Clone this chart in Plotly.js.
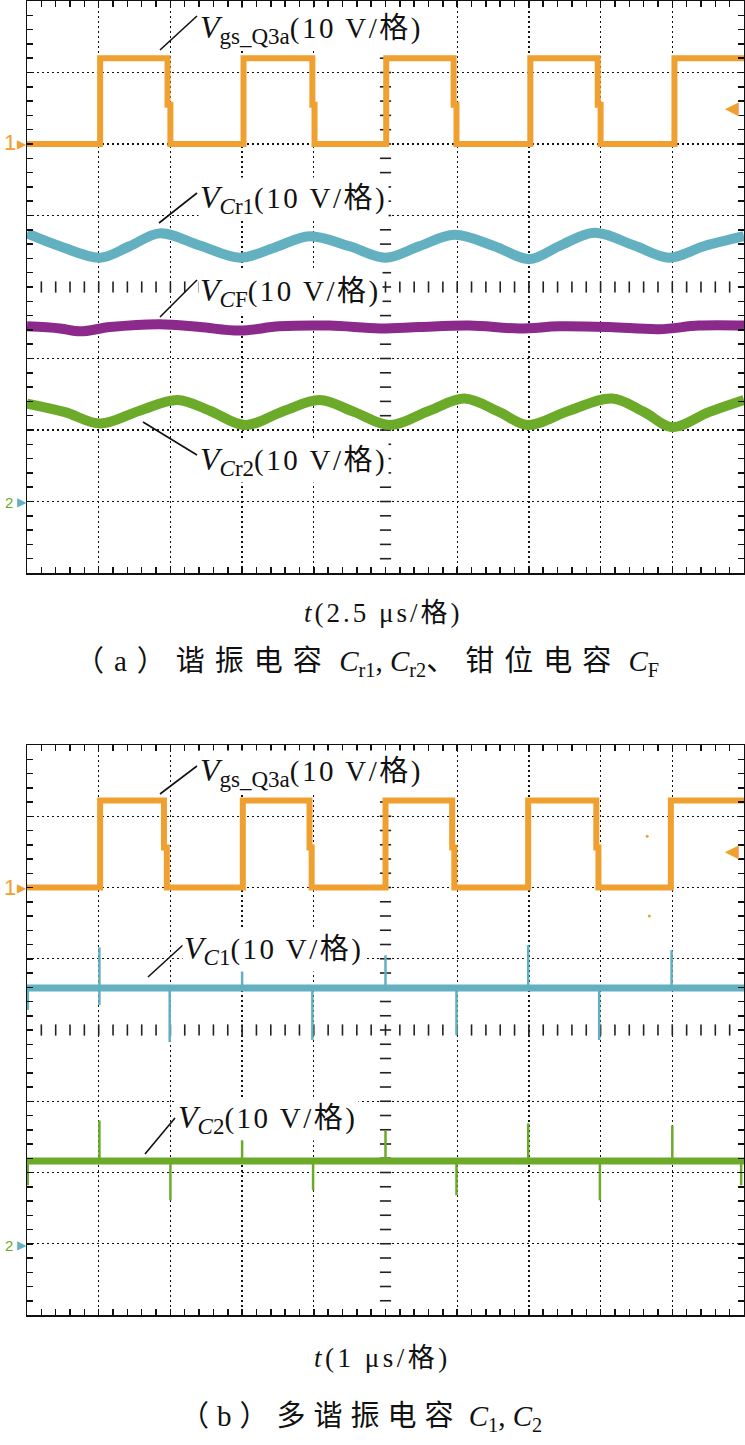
<!DOCTYPE html>
<html><head><meta charset="utf-8">
<script src="https://cdn.plot.ly/plotly-3.0.1.min.js"></script>
<style>body{margin:0;padding:0;background:#fff}</style>
</head><body><div id="chart" style="width:745px;height:1445px"></div>
<script>
// ---------- data (x in divisions 0..10, y in divisions 0..8) ----------
// Panel (a)
const gateA_x = [0, 1.02, 1.02, 1.96, 1.96, 2.00, 2.00, 3.02, 3.02, 3.98, 3.98, 4.01, 4.01, 5.01, 5.01, 5.95, 5.95, 5.99, 5.99, 7.02, 7.02, 7.96, 7.96, 8.00, 8.00, 9.03, 9.03, 10];
const gateA_y = [6.0, 6.0, 7.2, 7.2, 6.55, 6.55, 6.0, 6.0, 7.2, 7.2, 6.55, 6.55, 6.0, 6.0, 7.2, 7.2, 6.55, 6.55, 6.0, 6.0, 7.2, 7.2, 6.55, 6.55, 6.0, 6.0, 7.2, 7.2];
const vcr1_x = [0, 0.46, 1.02, 1.43, 1.85, 2.41, 2.97, 3.45, 3.94, 4.50, 5.00, 5.47, 5.96, 6.52, 7.01, 7.42, 7.91, 8.47, 8.96, 9.44, 10];
const vcr1_y = [4.75, 4.57, 4.41, 4.57, 4.75, 4.58, 4.41, 4.55, 4.71, 4.57, 4.41, 4.57, 4.73, 4.57, 4.39, 4.57, 4.76, 4.58, 4.41, 4.57, 4.71];
const vcf_x = [0, 0.46, 0.74, 1.16, 1.85, 2.41, 2.97, 3.52, 4.22, 4.92, 5.47, 6.17, 6.87, 7.42, 8.12, 8.82, 9.37, 10];
const vcf_y = [3.45, 3.42, 3.38, 3.44, 3.48, 3.44, 3.39, 3.45, 3.46, 3.42, 3.44, 3.46, 3.42, 3.45, 3.44, 3.41, 3.46, 3.46];
const vcr2_x = [0, 0.53, 1.02, 1.57, 2.10, 2.55, 3.04, 3.59, 4.08, 4.57, 5.06, 5.61, 6.10, 6.59, 6.98, 7.56, 8.16, 8.61, 9.00, 9.51, 10];
const vcr2_y = [2.37, 2.25, 2.09, 2.27, 2.42, 2.27, 2.07, 2.27, 2.42, 2.25, 2.07, 2.27, 2.44, 2.25, 2.07, 2.27, 2.44, 2.25, 2.04, 2.25, 2.42];
// Panel (b)
const gateB_x = [0, 1.02, 1.02, 1.91, 1.91, 1.95, 1.95, 3.01, 3.01, 3.94, 3.94, 3.97, 3.97, 5.00, 5.00, 5.93, 5.93, 5.96, 5.96, 6.99, 6.99, 7.94, 7.94, 7.97, 7.97, 8.98, 8.98, 10];
const gateB_y = [6.0, 6.0, 7.22, 7.22, 6.56, 6.56, 6.0, 6.0, 7.22, 7.22, 6.56, 6.56, 6.0, 6.0, 7.22, 7.22, 6.56, 6.56, 6.0, 6.0, 7.22, 7.22, 6.56, 6.56, 6.0, 6.0, 7.22, 7.22];
const gateB_dots_x = [8.65, 8.68];
const gateB_dots_y = [6.72, 5.60];
const vc1_base_x = [0, 10];
const vc1_base_y = [4.59, 4.59];
const vc1_spk_x = [0.01, 0.01, null, 1.01, 1.01, null, 1.99, 1.99, null, 3.00, 3.00, null, 3.98, 3.98, null, 5.00, 5.00, null, 5.99, 5.99, null, 6.99, 6.99, null, 7.98, 7.98, null, 8.99, 8.99];
const vc1_spk_y = [4.59, 4.28, null, 4.35, 5.16, null, 4.59, 3.83, null, 4.59, 4.91, null, 4.59, 3.86, null, 4.59, 5.05, null, 4.59, 3.93, null, 4.59, 5.19, null, 4.59, 3.86, null, 4.59, 5.12];
const vc2_base_x = [0, 10];
const vc2_base_y = [2.16, 2.16];
const vc2_spk_x = [0.01, 0.01, null, 1.01, 1.01, null, 2.00, 2.00, null, 3.00, 3.00, null, 3.99, 3.99, null, 5.00, 5.00, null, 5.99, 5.99, null, 6.99, 6.99, null, 7.99, 7.99, null, 9.00, 9.00, null, 9.96, 9.96];
const vc2_spk_y = [2.16, 1.82, null, 2.16, 2.73, null, 2.16, 1.61, null, 2.16, 2.45, null, 2.16, 1.75, null, 2.16, 2.59, null, 2.16, 1.68, null, 2.16, 2.69, null, 2.16, 1.61, null, 2.16, 2.66, null, 2.16, 1.82];

// text
const V = '<span style="font-size:32px"><i>V</i></span>';
const UNIT = '<span style="letter-spacing:2.5px">(10 V/格)</span>';
const sub = s => '<sub><span style="font-size:23px">' + s + '</span></sub>';
const labelGs = V + sub('gs_Q3a') + UNIT;
const labelCr1 = V + sub('<i>C</i>r1') + UNIT;
const labelCF = V + sub('<i>C</i>F') + UNIT;
const labelCr2 = V + sub('<i>C</i>r2') + UNIT;
const labelC1 = V + sub('<i>C</i>1') + UNIT;
const labelC2 = V + sub('<i>C</i>2') + UNIT;
const xTitleA = '<span style="letter-spacing:3px"><i>t</i>(2.5 μs/格)</span>';
const xTitleB = '<span style="letter-spacing:3.5px"><i>t</i>(1 μs/格)</span>';
const captionA = '<span style="letter-spacing:10px">（a）谐振电容</span> <i>C</i><sub>r1</sub>, <i>C</i><sub>r2</sub><span style="letter-spacing:10px">、钳位电容</span> <i>C</i><sub>F</sub>';
const captionB = '<span style="letter-spacing:8px">（b）多谐振电容</span> <i>C</i><sub>1</sub>, <i>C</i><sub>2</sub>';

// ---------- styling ----------
const W = 745, H = 1445;
const PX = x => x / W, PY = y => 1 - y / H;
const FONT = "'Liberation Serif', 'Times New Roman', 'Noto Sans CJK SC', serif";
const ORANGE = '#F0A030', TEAL = '#62B0C0', PURPLE = '#8C2A8C', GREEN = '#6CAA2A';

function axX(anchor){
  return {domain:[PX(27), PX(744)], range:[0,10], anchor:anchor, tickmode:'array', tickvals:[1,2,3,4,6,7,8,9],
    showticklabels:false, ticks:'inside', ticklen:6, tickwidth:1.5, tickcolor:'#111',
    showgrid:true, griddash:'2px,3px', gridcolor:'#111', gridwidth:1.3, zeroline:false,
    showline:true, linecolor:'#111', linewidth:1.5, mirror:'ticks', layer:'above traces', fixedrange:true,
    minor:{tickmode:'linear', tick0:0, dtick:0.2, ticks:'inside', ticklen:6, tickwidth:1.5, tickcolor:'#111', showgrid:false}};
}
function axY(anchor, dom){
  return {domain:dom, range:[0,8], anchor:anchor, tickmode:'array', tickvals:[1,2,3,5,6,7],
    showticklabels:false, ticks:'inside', ticklen:6, tickwidth:1.5, tickcolor:'#111',
    showgrid:true, griddash:'2px,3px', gridcolor:'#111', gridwidth:1.3, zeroline:false,
    showline:true, linecolor:'#111', linewidth:1.5, mirror:'ticks', layer:'above traces', fixedrange:true,
    minor:{tickmode:'linear', tick0:0, dtick:0.2, ticks:'inside', ticklen:6, tickwidth:1.5, tickcolor:'#111', showgrid:false}};
}

// graticule centre-axis tick marks
const cx = [], cy = [], vx = [], vy = [];
for (let k = 1; k < 50; k++) { cx.push(k*0.2); cy.push(4); }
for (let k = 1; k < 40; k++) { vx.push(5); vy.push(k*0.2); }

function line(x, y, color, width, xa, ya, shape){
  return {x:x, y:y, type:'scatter', mode:'lines', line:{color:color, width:width, shape:shape||'linear', smoothing:1.0}, xaxis:xa, yaxis:ya, hoverinfo:'skip', showlegend:false};
}
function centreTicks(xa, ya){
  return [
    {x:cx, y:cy, type:'scatter', mode:'markers', marker:{symbol:'line-ns', size:8, line:{width:1.6, color:'#222'}}, xaxis:xa, yaxis:ya, hoverinfo:'skip', showlegend:false},
    {x:vx, y:vy, type:'scatter', mode:'markers', marker:{symbol:'line-ew', size:8, line:{width:1.6, color:'#222'}}, xaxis:xa, yaxis:ya, hoverinfo:'skip', showlegend:false}
  ];
}

const traces = [].concat(
  centreTicks('x','y'),
  [line(vcr1_x, vcr1_y, TEAL, 10, 'x','y', 'spline')],
  [line(vcf_x, vcf_y, PURPLE, 10, 'x','y', 'spline')],
  [line(vcr2_x, vcr2_y, GREEN, 10, 'x','y', 'spline')],
  [line(gateA_x, gateA_y, ORANGE, 6, 'x','y')],
  centreTicks('x2','y2'),
  [line(vc1_base_x, vc1_base_y, TEAL, 7, 'x2','y2'), line(vc1_spk_x, vc1_spk_y, TEAL, 2.5, 'x2','y2')],
  [line(vc2_base_x, vc2_base_y, GREEN, 7, 'x2','y2'), line(vc2_spk_x, vc2_spk_y, GREEN, 2.5, 'x2','y2')],
  [line(gateB_x, gateB_y, ORANGE, 6, 'x2','y2')],
  [{x:gateB_dots_x, y:gateB_dots_y, type:'scatter', mode:'markers', marker:{color:ORANGE, size:3}, xaxis:'x2', yaxis:'y2', hoverinfo:'skip', showlegend:false}]
);

function ann(text, x, y, size, opts){
  return Object.assign({text:text, x:PX(x), y:PY(y), xref:'paper', yref:'paper', showarrow:false,
    xanchor:'left', yanchor:'middle', font:{family:FONT, size:size, color:'#111'}}, opts||{});
}
function label(text, x, y){
  return ann(text, x, y, 29, {bgcolor:'#fff', borderpad:1});
}
function leader(x0,y0,x1,y1){
  return {type:'line', xref:'paper', yref:'paper', x0:PX(x0), y0:PY(y0), x1:PX(x1), y1:PY(y1), line:{color:'#111', width:1.6}};
}

const annotations = [
  label(labelGs, 198, 29),
  label(labelCr1, 198, 199),
  label(labelCF, 198, 292),
  label(labelCr2, 198, 461),
  label(labelGs, 198, 772),
  label(labelC1, 182, 950),
  label(labelC2, 176, 1119),
  ann(xTitleA, 383, 613, 27, {xanchor:'center'}),
  ann(xTitleB, 382, 1358, 27, {xanchor:'center'}),
  ann(captionA, 367, 663, 29, {xanchor:'center'}),
  ann(captionB, 361, 1418, 29, {xanchor:'center'}),
  // channel markers
  ann('1', 2, 143, 22, {font:{family:"'Liberation Sans', sans-serif", size:22, color:ORANGE}}),
  ann('▶', 15, 144, 12, {font:{family:"'DejaVu Sans', sans-serif", size:12, color:ORANGE}}),
  ann('1', 2, 887, 22, {font:{family:"'Liberation Sans', sans-serif", size:22, color:ORANGE}}),
  ann('▶', 15, 888, 12, {font:{family:"'DejaVu Sans', sans-serif", size:12, color:ORANGE}}),
  ann('2', 3, 502, 15, {font:{family:"'Liberation Sans', sans-serif", size:15, color:GREEN}}),
  ann('▶', 15, 502, 12, {font:{family:"'DejaVu Sans', sans-serif", size:12, color:TEAL}}),
  ann('2', 3, 1245, 15, {font:{family:"'Liberation Sans', sans-serif", size:15, color:GREEN}}),
  ann('▶', 15, 1245, 12, {font:{family:"'DejaVu Sans', sans-serif", size:12, color:TEAL}}),
  ann('◀', 723, 107, 18, {font:{family:"'DejaVu Sans', sans-serif", size:18, color:ORANGE}}),
  ann('◀', 723, 850, 18, {font:{family:"'DejaVu Sans', sans-serif", size:18, color:ORANGE}})
];

const shapes = [
  leader(160, 50, 197, 16),
  leader(159, 223, 197, 193),
  leader(160, 317, 197, 280),
  leader(143, 422, 197, 455),
  leader(160, 794, 197, 766),
  leader(148, 977, 183, 945),
  leader(145, 1154, 175, 1118)
];

const layout = {
  width:W, height:H, margin:{l:0, r:0, t:0, b:0}, paper_bgcolor:'#fff', plot_bgcolor:'#fff',
  showlegend:false, font:{family:FONT},
  xaxis:axX('y'), yaxis:axY('x', [PY(573), PY(1)]),
  xaxis2:axX('y2'), yaxis2:axY('x2', [PY(1315), PY(745)]),
  annotations:annotations, shapes:shapes
};

Plotly.newPlot('chart', traces, layout, {staticPlot:true, displayModeBar:false});
</script></body></html>
